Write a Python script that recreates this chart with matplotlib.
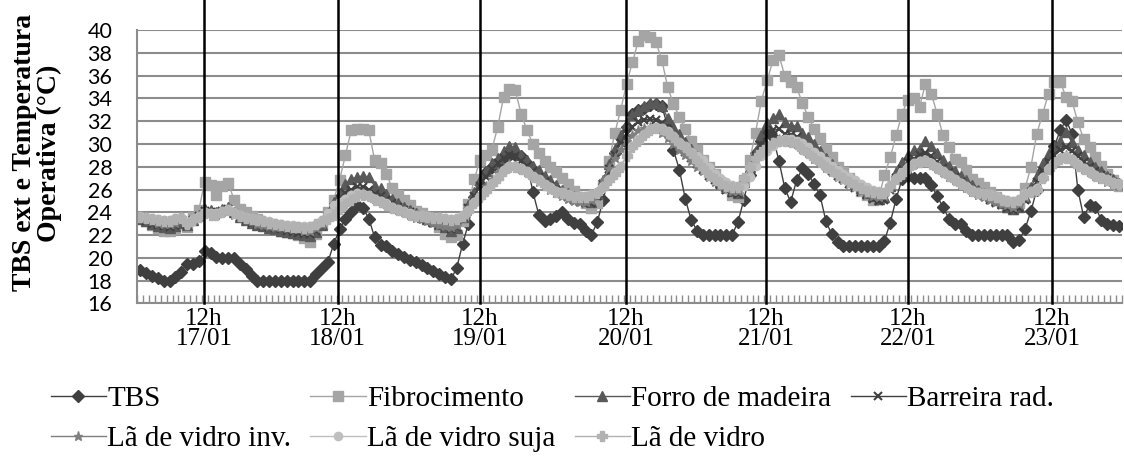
import numpy as np
import matplotlib
matplotlib.use('Agg')
import matplotlib.pyplot as plt

# hourly values, 17/01 01h -> 23/01 24h (7 days x 24 h)
days = ['17/01', '18/01', '19/01', '20/01', '21/01', '22/01', '23/01']

tbs = [18.9, 18.7, 18.4, 18.2, 18.0, 18.0, 18.3, 18.8, 19.5, 19.5, 19.7, 20.6, 20.4, 20.1, 20.0, 20.0, 20.0, 19.5, 19.0, 18.4, 18.0, 18.0, 18.0, 18.0,
       18.0, 18.0, 18.0, 18.0, 18.0, 18.0, 18.6, 19.1, 19.6, 21.2, 22.5, 23.4, 24.0, 24.6, 24.4, 23.45, 21.8, 21.15, 21.0, 20.6, 20.35, 20.1, 19.85, 19.6,
       19.35, 19.1, 18.85, 18.6, 18.35, 18.1, 19.1, 21.2, 23.0, 25.3, 26.5, 27.5, 28.0, 28.2, 28.8, 29.0, 29.0, 28.9, 28.3, 25.8, 23.8, 23.2, 23.4, 23.7,
       24.0, 23.4, 23.05, 23.0, 22.4, 22.0, 23.15, 25.1, 27.2, 29.2, 30.5, 31.5, 32.6, 33.0, 33.2, 33.4, 33.5, 33.3, 31.6, 29.45, 27.75, 25.2, 23.35, 22.4,
       22.0, 22.0, 22.0, 22.0, 22.0, 22.0, 23.15, 25.1, 27.3, 29.2, 30.3, 31.2, 30.6, 28.5, 26.1, 24.9, 26.8, 27.85, 27.4, 26.45, 25.5, 23.25, 22.05, 21.4,
       21.0, 21.0, 21.0, 21.0, 21.0, 21.0, 21.0, 21.5, 23.1, 25.2, 26.9, 27.2, 27.05, 27.05, 27.0, 26.4, 25.4, 24.45, 23.45, 23.0, 23.0, 22.35, 22.0, 22.0,
       22.0, 22.0, 22.0, 22.0, 22.0, 21.4, 21.55, 22.55, 24.1, 26.0, 27.7, 28.6, 29.8, 31.2, 32.1, 30.9, 26.0, 23.6, 24.6, 24.45, 23.35, 23.0, 22.85, 22.8]

fibro = [23.5, 23.2, 22.9, 22.6, 22.4, 22.4, 22.5, 23.2, 22.7, 23.6, 24.2, 26.7, 26.4, 25.5, 26.3, 26.6, 25.1, 24.3, 24.0, 23.7, 23.4, 23.1, 22.8, 22.5,
         22.4, 22.3, 22.2, 22.0, 21.7, 21.4, 22.1, 23.0, 24.0, 25.05, 26.8, 29.0, 31.2, 31.3, 31.3, 31.2, 28.55, 28.3, 27.4, 26.1, 25.5, 25.05, 24.6, 24.15,
         23.9, 23.6, 23.3, 22.7, 22.1, 21.8, 22.0, 23.2, 24.75, 26.9, 28.6, 29.0, 29.5, 31.5, 34.1, 34.8, 34.7, 32.65, 31.2, 30.0, 29.2, 28.5, 28.0, 27.5,
         27.0, 26.5, 25.9, 25.35, 24.8, 24.4, 24.8, 26.4, 28.5, 31.0, 33.0, 35.3, 37.2, 39.05, 39.55, 39.35, 38.95, 37.4, 35.0, 33.5, 32.4, 31.35, 30.3, 29.45,
         28.6, 28.0, 27.35, 26.65, 26.1, 25.5, 25.3, 26.8, 28.55, 31.0, 33.8, 35.6, 37.4, 37.8, 35.95, 35.45, 35.0, 33.6, 32.35, 31.35, 30.5, 29.6, 28.85, 28.0,
         27.5, 27.0, 26.4, 25.9, 25.5, 25.05, 25.2, 27.25, 28.85, 30.75, 32.65, 33.9, 34.05, 33.25, 35.3, 34.4, 32.65, 30.75, 29.7, 28.7, 28.4, 27.7, 26.95, 26.6,
         26.2, 25.8, 25.3, 24.9, 24.45, 24.3, 24.8, 26.1, 28.0, 30.9, 32.65, 34.4, 35.45, 35.45, 34.1, 33.8, 31.9, 30.45, 29.75, 28.85, 28.1, 27.4, 26.8, 26.3]

forro = [23.4, 23.2, 23.0, 22.8, 22.7, 22.6, 22.8, 23.1, 22.9, 23.3, 23.8, 24.3, 24.2, 24.0, 24.3, 24.5, 24.0, 23.6, 23.3, 23.1, 22.9, 22.8, 22.6, 22.5,
         22.4, 22.3, 22.2, 22.1, 22.0, 21.9, 22.3, 22.9, 23.9, 24.9, 25.7, 26.5, 26.9, 27.1, 27.2, 27.1, 26.3, 26.1, 25.6, 25.2, 24.8, 24.5, 24.2, 23.9,
         23.6, 23.4, 23.2, 23.0, 22.7, 22.4, 22.6, 23.6, 24.6, 25.8, 26.8, 27.6, 28.3, 28.8, 29.4, 29.8, 29.7, 29.0, 28.6, 28.1, 27.7, 27.2, 26.8, 26.4,
         26.0, 25.7, 25.4, 25.2, 25.0, 24.9, 25.6, 26.8, 28.2, 29.6, 30.8, 31.8, 32.5, 33.0, 33.3, 33.6, 33.6, 33.3, 32.3, 31.5, 30.9, 30.2, 29.6, 28.9,
         28.3, 27.7, 27.2, 26.7, 26.3, 25.9, 25.7, 26.7, 28.0, 29.4, 30.8, 31.8, 32.3, 32.6, 31.9, 31.6, 31.6, 31.0, 30.6, 30.0, 29.4, 28.8, 28.2, 27.7,
         27.3, 26.9, 26.5, 26.1, 25.7, 25.4, 25.2, 25.3, 26.3, 27.5, 28.4, 29.0, 29.45, 29.6, 30.3, 29.8, 29.2, 28.6, 28.1, 27.6, 27.2, 26.8, 26.4, 26.0,
         25.7, 25.4, 25.1, 24.8, 24.5, 24.3, 24.5, 25.3, 26.2, 27.2, 28.3, 29.2, 29.8, 30.3, 31.05, 30.15, 29.5, 29.0, 28.4, 28.0, 27.6, 27.2, 26.9, 26.6]

barreira = [23.4, 23.2, 23.0, 22.9, 22.8, 22.7, 22.9, 23.2, 22.9, 23.3, 23.7, 24.1, 24.0, 23.9, 24.1, 24.3, 23.9, 23.6, 23.3, 23.1, 22.9, 22.8, 22.7, 22.6,
            22.5, 22.4, 22.3, 22.2, 22.1, 22.1, 22.4, 22.9, 23.7, 24.5, 25.2, 25.7, 26.0, 26.2, 26.2, 26.0, 25.6, 25.4, 25.1, 24.8, 24.5, 24.2, 24.0, 23.7,
            23.5, 23.3, 23.1, 22.9, 22.7, 22.5, 22.7, 23.5, 24.4, 25.4, 26.3, 27.1, 27.8, 28.3, 28.8, 29.0, 28.9, 28.5, 28.1, 27.6, 27.1, 26.7, 26.3, 26.0,
            25.6, 25.3, 25.1, 24.9, 24.8, 24.8, 25.4, 26.5, 27.8, 29.0, 30.1, 30.9, 31.5, 31.9, 32.1, 32.2, 32.1, 31.8, 31.2, 30.5, 29.9, 29.3, 28.8, 28.2,
            27.7, 27.2, 26.8, 26.4, 26.0, 25.7, 25.6, 26.5, 27.7, 28.9, 29.9, 30.7, 31.2, 31.3, 30.9, 30.8, 30.6, 30.0, 29.5, 29.0, 28.5, 28.1, 27.6, 27.2,
            26.9, 26.5, 26.1, 25.8, 25.5, 25.2, 25.0, 25.1, 26.0, 27.0, 27.8, 28.4, 28.7, 29.0, 29.2, 28.9, 28.4, 27.9, 27.5, 27.1, 26.7, 26.3, 26.0, 25.7,
            25.4, 25.1, 24.8, 24.6, 24.4, 24.2, 24.4, 25.1, 25.8, 26.7, 27.6, 28.4, 29.0, 29.5, 29.7, 29.4, 28.9, 28.4, 28.0, 27.6, 27.3, 27.0, 26.7, 26.4]

lv_inv = [23.5, 23.4, 23.2, 23.1, 23.0, 23.0, 23.1, 23.3, 23.0, 23.3, 23.6, 24.0, 23.9, 23.8, 24.0, 24.2, 23.8, 23.6, 23.4, 23.2, 23.0, 22.9, 22.8, 22.7,
          22.7, 22.6, 22.5, 22.5, 22.4, 22.4, 22.6, 23.0, 23.6, 24.3, 24.8, 25.2, 25.5, 25.7, 25.7, 25.5, 25.2, 25.0, 24.7, 24.5, 24.2, 24.0, 23.8, 23.5,
          23.4, 23.2, 23.1, 22.9, 22.8, 22.7, 22.9, 23.5, 24.1, 24.9, 25.6, 26.3, 26.9, 27.5, 27.9, 28.2, 28.1, 27.8, 27.5, 27.1, 26.7, 26.4, 26.0, 25.7,
          25.4, 25.2, 25.0, 24.9, 24.9, 25.1, 25.8, 26.8, 27.9, 28.8, 29.6, 30.3, 30.8, 31.2, 31.4, 31.5, 31.3, 31.0, 30.5, 30.0, 29.5, 29.0, 28.5, 28.0,
          27.6, 27.1, 26.7, 26.4, 26.1, 25.9, 25.9, 26.7, 27.7, 28.6, 29.3, 29.8, 30.2, 30.4, 30.3, 30.2, 30.0, 29.6, 29.2, 28.7, 28.3, 27.9, 27.5, 27.1,
          26.8, 26.5, 26.2, 25.9, 25.6, 25.4, 25.3, 25.4, 26.1, 26.8, 27.4, 27.9, 28.2, 28.5, 28.6, 28.3, 27.9, 27.5, 27.1, 26.8, 26.4, 26.1, 25.8, 25.5,
          25.3, 25.1, 24.9, 24.7, 24.6, 24.5, 24.7, 25.3, 25.7, 26.2, 27.1, 27.8, 28.4, 28.8, 29.0, 28.7, 28.2, 27.8, 27.5, 27.2, 26.9, 26.7, 26.5, 26.3]

lv_suja = [23.7, 23.6, 23.5, 23.4, 23.3, 23.3, 23.5, 23.6, 23.1, 23.4, 23.7, 24.0, 23.9, 23.9, 24.1, 24.3, 24.0, 23.8, 23.6, 23.5, 23.4, 23.3, 23.2, 23.1,
           23.0, 22.9, 22.9, 22.8, 22.8, 22.8, 23.0, 23.3, 23.9, 24.6, 24.9, 25.2, 25.5, 25.7, 25.6, 25.4, 25.2, 25.0, 24.8, 24.5, 24.3, 24.1, 23.9, 23.8,
           23.8, 23.7, 23.6, 23.6, 23.5, 23.4, 23.5, 23.8, 24.2, 24.9, 25.4, 26.0, 26.6, 27.1, 27.7, 28.1, 28.1, 27.9, 27.6, 27.2, 26.9, 26.5, 26.2, 25.9,
           25.8, 25.6, 25.4, 25.4, 25.4, 25.6, 25.8, 26.3, 26.9, 27.5, 28.1, 29.0, 29.8, 30.4, 30.9, 31.3, 31.5, 31.4, 31.1, 30.7, 30.2, 29.8, 29.3, 28.9,
           28.6, 28.0, 27.4, 27.0, 26.7, 26.4, 26.3, 26.3, 27.1, 28.1, 28.9, 29.4, 29.8, 30.2, 30.4, 30.4, 30.3, 30.1, 29.7, 29.3, 28.9, 28.5, 28.1, 27.7,
           27.4, 27.1, 26.8, 26.5, 26.2, 26.0, 25.9, 25.8, 26.4, 27.0, 27.5, 28.0, 28.3, 28.5, 28.6, 28.3, 28.0, 27.6, 27.3, 26.9, 26.6, 26.3, 26.0, 25.8,
           25.7, 25.6, 25.4, 25.2, 25.1, 25.0, 25.2, 25.7, 25.9, 26.1, 27.1, 27.9, 28.4, 28.8, 28.9, 28.7, 28.2, 27.9, 27.6, 27.3, 27.1, 26.9, 26.7, 26.5]

lv = [23.6, 23.5, 23.4, 23.3, 23.2, 23.2, 23.4, 23.5, 23.0, 23.3, 23.6, 23.9, 23.8, 23.8, 24.0, 24.2, 23.9, 23.7, 23.5, 23.45, 23.3, 23.2, 23.1, 23.0,
      22.9, 22.8, 22.7, 22.7, 22.6, 22.7, 23.0, 23.2, 23.4, 23.8, 24.3, 24.7, 25.05, 25.4, 25.5, 25.4, 25.1, 24.9, 24.6, 24.4, 24.2, 24.0, 23.8, 23.7,
      23.7, 23.6, 23.5, 23.5, 23.4, 23.3, 23.4, 23.7, 24.1, 24.8, 25.35, 25.9, 26.5, 27.0, 27.6, 28.0, 28.0, 27.8, 27.5, 27.1, 26.8, 26.4, 26.1, 25.8,
      25.7, 25.5, 25.35, 25.3, 25.3, 25.5, 25.7, 26.2, 26.8, 27.4, 28.0, 28.9, 29.7, 30.3, 30.8, 31.2, 31.4, 31.3, 31.0, 30.6, 30.1, 29.7, 29.2, 28.5,
      27.9, 27.3, 26.9, 26.6, 26.3, 26.2, 26.2, 27.0, 28.0, 28.8, 29.3, 29.7, 30.1, 30.3, 30.3, 30.2, 30.0, 29.6, 29.2, 28.8, 28.4, 28.0, 27.6, 27.3,
      27.0, 26.7, 26.4, 26.1, 25.9, 25.8, 25.7, 25.7, 26.3, 26.9, 27.4, 27.9, 28.2, 28.4, 28.5, 28.2, 27.9, 27.5, 27.2, 26.8, 26.5, 26.2, 25.9, 25.7,
      25.6, 25.5, 25.3, 25.1, 25.0, 24.9, 25.1, 25.6, 25.8, 26.0, 27.0, 27.8, 28.3, 28.7, 28.8, 28.6, 28.1, 27.8, 27.5, 27.2, 27.0, 26.8, 26.6, 26.45]

# where the noon lines / labels sit on the hour axis (as drawn in the original)
noon_pos = [10.9, 33.7, 58.0, 82.9, 106.8, 131.0, 155.6]

series = [
    ('TBS', tbs, '#3f3f3f', 'D', 5.8, 1.0),
    ('Fibrocimento', fibro, '#a5a5a5', 's', 6.5, 1.0),
    ('Forro de madeira', forro, '#595959', '^', 6.5, 1.0),
    ('Barreira rad.', barreira, '#404040', 'x', 5.5, 1.5),
    ('Lã de vidro inv.', lv_inv, '#7f7f7f', '*', 6.5, 1.0),
    ('Lã de vidro suja', lv_suja, '#bfbfbf', 'o', 6.0, 1.0),
    ('Lã de vidro', lv, '#b2b2b2', 'P', 6.5, 1.0),
]

fig = plt.figure(figsize=(11.24, 4.59), dpi=100)
ax = fig.add_axes([0.1222, 0.339, 0.8758, 0.5955])

x = np.arange(len(tbs))
handles = []
for name, vals, col, mk, ms, mew in series:
    h, = ax.plot(x, vals, color=col, lw=1.0, marker=mk, ms=ms, mfc=col, mec=col,
                 mew=mew, label=name)
    handles.append(h)

ax.set_ylim(16, 40)
ax.set_xlim(-0.5, len(tbs) - 0.5)
ax.set_yticks(np.arange(16, 41, 2))
ax.yaxis.grid(True, color='#8c8c8c', lw=1.5)
ax.set_axisbelow(True)
for s in ['top', 'right']:
    ax.spines[s].set_visible(False)
for s in ['left', 'bottom']:
    ax.spines[s].set_color('#8c8c8c')
    ax.spines[s].set_linewidth(1.5)

ax.tick_params(axis='y', length=0, pad=18, labelsize=15.5)
for t in ax.get_yticklabels():
    t.set_fontfamily('Lato')

# hourly tick marks
ax.set_xticks(np.arange(-0.5, len(tbs), 1), minor=True)
ax.tick_params(axis='x', which='minor', direction='in', length=6, color='#8c8c8c', width=1)
ax.set_xticks(noon_pos)
ax.set_xticklabels(['12h\n' + d for d in days], fontfamily='Liberation Serif',
                   fontsize=18, linespacing=0.9)
ax.tick_params(axis='x', which='major', length=0, pad=3)

# black noon lines, reaching above the plot
for p in noon_pos:
    ax.plot([p, p], [16, 42.6], color='black', lw=1.8, clip_on=False, zorder=5)

fig.text(0.033, 0.667, 'TBS ext e Temperatura\nOperativa (°C)', rotation=90,
         ha='center', va='center', multialignment='center',
         fontfamily='Liberation Serif', fontweight='bold', fontsize=20, linespacing=1.0)

# legend filled row by row like the original (matplotlib fills by column)
order = [0, 4, 1, 5, 2, 6, 3]
fig.legend(handles=[handles[i] for i in order], ncol=4, loc='upper left',
           bbox_to_anchor=(0.045, 0.16), borderaxespad=0, borderpad=0,
           frameon=False, prop={'family': 'Liberation Serif', 'size': 21},
           handlelength=1.9, handletextpad=0.05, columnspacing=0.65, labelspacing=0.48)

fig.savefig('out.png', dpi=100)
